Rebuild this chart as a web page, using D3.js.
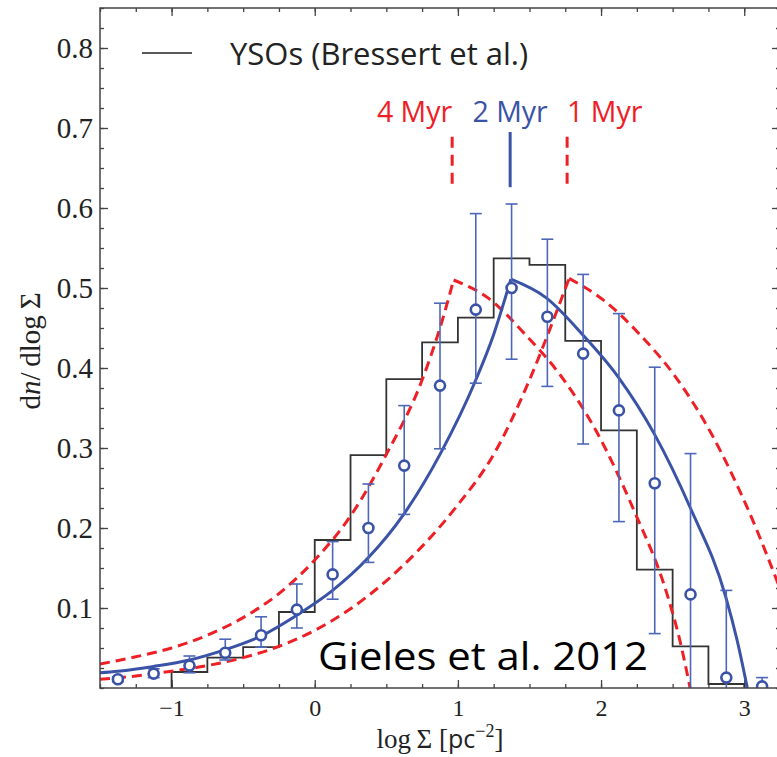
<!DOCTYPE html>
<html>
<head>
<meta charset="utf-8">
<script src="https://cdn.jsdelivr.net/npm/d3@7"></script>
<style>
  body { margin: 0; background: #fff; }
  .tick line { stroke: #444; stroke-width: 1.3; }
</style>
</head>
<body>
<svg id="chart"></svg>
<script>
var width = 777;
var height = 757;

// YSO histogram (Bressert et al.): left bin edges and heights
var binStart = [-1.0, -0.75, -0.5, -0.25, 0, 0.25, 0.5, 0.75, 1.0, 1.25, 1.5, 1.75, 2.0, 2.25, 2.5, 2.75];
var binHeight = [0.020, 0.038, 0.051, 0.095, 0.185, 0.291, 0.386, 0.432, 0.463, 0.537, 0.529, 0.434, 0.322, 0.148, 0.052, 0.005];
var binEnd = 3.0;

// model points with error bars
var ptX = [-1.375, -1.125, -0.875, -0.625, -0.375, -0.125, 0.125, 0.375, 0.625, 0.875, 1.125, 1.375, 1.625, 1.875, 2.125, 2.375, 2.625, 2.875, 3.125];
var ptY = [0.011, 0.018, 0.028, 0.044, 0.066, 0.098, 0.142, 0.200, 0.278, 0.378, 0.473, 0.500, 0.464, 0.418, 0.347, 0.256, 0.117, 0.013, 0.002];
var errLo = [0.008, 0.013, 0.019, 0.035, 0.051, 0.075, 0.111, 0.157, 0.217, 0.299, 0.381, 0.411, 0.377, 0.305, 0.208, 0.068, 0, 0, 0];
var errHi = [0.014, 0.024, 0.040, 0.061, 0.089, 0.130, 0.183, 0.255, 0.353, 0.481, 0.593, 0.605, 0.561, 0.517, 0.468, 0.401, 0.293, 0.122, 0.013];

// 2 Myr fit (blue), rising and falling branches
var fit2LeftX = [-1.5, -1.375, -1.125, -0.875, -0.625, -0.375, -0.125, 0.125, 0.375, 0.625, 0.875, 1.125, 1.25, 1.37];
var fit2LeftY = [0.019, 0.021, 0.027, 0.035, 0.048, 0.065, 0.091, 0.122, 0.163, 0.218, 0.292, 0.385, 0.442, 0.511];
var fit2RightX = [1.37, 1.615, 1.87, 2.119, 2.371, 2.624, 2.871, 2.95, 3.022];
var fit2RightY = [0.511, 0.488, 0.442, 0.389, 0.318, 0.225, 0.114, 0.06, 0];

// 4 Myr model (red dashed)
var fit4LeftX = [-1.5, -1.25, -1.0, -0.75, -0.5, -0.25, 0.0, 0.25, 0.5, 0.75, 0.9, 0.97];
var fit4LeftY = [0.030, 0.039, 0.050, 0.066, 0.088, 0.118, 0.160, 0.215, 0.292, 0.385, 0.465, 0.51];
var fit4RightX = [0.97, 1.215, 1.47, 1.72, 1.97, 2.22, 2.47, 2.55, 2.622];
var fit4RightY = [0.51, 0.487, 0.442, 0.39, 0.32, 0.226, 0.112, 0.06, 0];

// 1 Myr model (red dashed)
var fit1LeftX = [-1.5, -1.25, -1.0, -0.75, -0.5, -0.25, 0.0, 0.25, 0.5, 0.75, 1.0, 1.25, 1.5, 1.65, 1.777];
var fit1LeftY = [0.011, 0.015, 0.021, 0.028, 0.038, 0.052, 0.072, 0.099, 0.134, 0.177, 0.229, 0.292, 0.385, 0.452, 0.512];
var fit1RightX = [1.777, 2.03, 2.27, 2.52, 2.77, 3.02, 3.27];
var fit1RightY = [0.512, 0.483, 0.442, 0.389, 0.318, 0.226, 0.115];

// age markers at top
var ageLabels = ['4 Myr', '2 Myr', '1 Myr'];
var agePeakX = [0.96, 1.365, 1.763];

var xTickValues = [-1, 0, 1, 2, 3];
var xTickLabels = ['\u22121', '0', '1', '2', '3'];
var yTickValues = [0.1, 0.2, 0.3, 0.4, 0.5, 0.6, 0.7, 0.8];
var yTickLabels = ['0.1', '0.2', '0.3', '0.4', '0.5', '0.6', '0.7', '0.8'];

var red = '#ee2026';
var blue = '#3a53a6';
var barBlue = '#4d66b8';
var serif = '"Liberation Serif", "DejaVu Serif", serif';
var sans = '"Open Sans", sans-serif';

var x = d3.scaleLinear().domain([-1.5, 3.25]).range([100, 780]);
var y = d3.scaleLinear().domain([0, 0.85]).range([688, 8]);

var svg = d3.select('#chart')
    .attr('width', width)
    .attr('height', height);

svg.append('defs').append('clipPath')
    .attr('id', 'plot-clip')
  .append('rect')
    .attr('x', 100).attr('y', 8)
    .attr('width', 680).attr('height', 680);

// axes, ticks pointing inward on all four sides
function minorTicks(lo, hi, step) {
    var out = [];
    for (var v = lo; v <= hi + 1e-9; v += step) out.push(+v.toFixed(4));
    return out;
}
var xMinor = minorTicks(-1.5, 3.25, 0.25);
var yMinor = minorTicks(0, 0.85, 0.025);

function addAxis(axis, tf) {
    var g = svg.append('g').attr('transform', tf).call(axis);
    g.select('.domain').remove();
    return g;
}

addAxis(d3.axisBottom(x).tickValues(xMinor).tickSize(-4).tickFormat(''), 'translate(0,688)');
addAxis(d3.axisTop(x).tickValues(xMinor).tickSize(-4).tickFormat(''), 'translate(0,8)');
addAxis(d3.axisLeft(y).tickValues(yMinor).tickSize(-4).tickFormat(''), 'translate(100,0)');
addAxis(d3.axisRight(y).tickValues(yMinor).tickSize(-4).tickFormat(''), 'translate(780,0)');

addAxis(d3.axisBottom(x).tickValues(xTickValues).tickSize(-8).tickPadding(11)
    .tickFormat((d, i) => xTickLabels[i]), 'translate(0,688)')
    .selectAll('text')
    .style('font-family', serif)
    .style('font-size', '24px')
    .attr('fill', '#222');
addAxis(d3.axisTop(x).tickValues(xTickValues).tickSize(-8).tickFormat(''), 'translate(0,8)');
addAxis(d3.axisLeft(y).tickValues(yTickValues).tickSize(-8).tickPadding(7)
    .tickFormat((d, i) => yTickLabels[i]), 'translate(100,0)')
    .selectAll('text')
    .style('font-family', serif)
    .style('font-size', '29px')
    .attr('fill', '#222');
addAxis(d3.axisRight(y).tickValues(yTickValues).tickSize(-8).tickFormat(''), 'translate(780,0)');

var plot = svg.append('g').attr('clip-path', 'url(#plot-clip)');

// histogram
var histPts = [[binStart[0], 0]];
binStart.forEach((b, i) => histPts.push([b, binHeight[i]]));
histPts.push([binEnd, 0]);

plot.append('path')
    .attr('d', d3.line().x(d => x(d[0])).y(d => y(d[1])).curve(d3.curveStepAfter)(histPts))
    .attr('fill', 'none')
    .attr('stroke', '#333')
    .attr('stroke-width', 1.8);

var curve = d3.line()
    .x(d => x(d[0]))
    .y(d => y(d[1]))
    .curve(d3.curveMonotoneX);

function zip(a, b) { return a.map((v, i) => [v, b[i]]); }

[[fit4LeftX, fit4LeftY], [fit4RightX, fit4RightY], [fit1LeftX, fit1LeftY], [fit1RightX, fit1RightY]]
    .forEach(function(c) {
        plot.append('path')
            .attr('d', curve(zip(c[0], c[1])))
            .attr('fill', 'none')
            .attr('stroke', red)
            .attr('stroke-width', 3)
            .attr('stroke-dasharray', '10,6');
    });

[[fit2LeftX, fit2LeftY], [fit2RightX, fit2RightY]].forEach(function(c) {
    plot.append('path')
        .attr('d', curve(zip(c[0], c[1])))
        .attr('fill', 'none')
        .attr('stroke', blue)
        .attr('stroke-width', 3)
        .attr('stroke-linejoin', 'round');
});

// error bars
var bars = plot.selectAll('.ebar')
    .data(ptX.map((v, i) => ({x: v, y: ptY[i], lo: errLo[i], hi: errHi[i]})))
    .enter().append('g')
    .classed('ebar', true);

bars.append('line')
    .attr('x1', d => x(d.x)).attr('x2', d => x(d.x))
    .attr('y1', d => y(d.lo)).attr('y2', d => y(d.hi))
    .attr('stroke', barBlue).attr('stroke-width', 1.6);
bars.append('line')
    .attr('x1', d => x(d.x) - 6).attr('x2', d => x(d.x) + 6)
    .attr('y1', d => y(d.hi)).attr('y2', d => y(d.hi))
    .attr('stroke', barBlue).attr('stroke-width', 1.6);
bars.filter(d => d.lo > 0).append('line')
    .attr('x1', d => x(d.x) - 6).attr('x2', d => x(d.x) + 6)
    .attr('y1', d => y(d.lo)).attr('y2', d => y(d.lo))
    .attr('stroke', barBlue).attr('stroke-width', 1.6);
bars.append('circle')
    .attr('cx', d => x(d.x))
    .attr('cy', d => y(d.y))
    .attr('r', 5)
    .attr('fill', '#fff')
    .attr('stroke', blue)
    .attr('stroke-width', 2.6);

// frame
svg.append('rect')
    .attr('x', 100).attr('y', 8)
    .attr('width', 680).attr('height', 680)
    .attr('fill', 'none')
    .attr('stroke', '#444')
    .attr('stroke-width', 1.5);

// age markers
var ageColor = [red, blue, red];
var ageAnchor = ['end', 'middle', 'start'];
agePeakX.forEach(function(px, i) {
    svg.append('line')
        .attr('x1', x(px)).attr('x2', x(px))
        .attr('y1', y(i === 1 ? 0.695 : 0.689))
        .attr('y2', y(i === 1 ? 0.626 : 0.629))
        .attr('stroke', ageColor[i])
        .attr('stroke-width', 3)
        .attr('stroke-dasharray', i === 1 ? null : '11,7');
    svg.append('text')
        .attr('x', x(px))
        .attr('y', 122)
        .attr('text-anchor', ageAnchor[i])
        .attr('fill', ageColor[i])
        .style('font-family', sans)
        .style('font-size', '28.5px')
        .text(ageLabels[i]);
});

// legend
svg.append('line')
    .attr('x1', 142).attr('x2', 192)
    .attr('y1', 53).attr('y2', 53)
    .attr('stroke', '#222').attr('stroke-width', 1.5);
svg.append('text')
    .attr('x', 230).attr('y', 65)
    .attr('fill', '#222')
    .style('font-family', sans)
    .style('font-size', '31px')
    .text('YSOs (Bressert et al.)');

// axis titles
var xt = svg.append('text')
    .attr('x', 440).attr('y', 748)
    .attr('text-anchor', 'middle')
    .attr('fill', '#222')
    .style('font-family', serif)
    .style('font-size', '27px');
xt.append('tspan').text('log\u2009\u03A3 [');
xt.append('tspan').style('font-family', sans).style('font-size', '25px').text('pc');
xt.append('tspan').attr('dy', -11).style('font-size', '18px').text('\u22122');
xt.append('tspan').attr('dy', 11).text(']');

var yt = svg.append('text')
    .attr('transform', 'translate(40,351) rotate(-90)')
    .attr('text-anchor', 'middle')
    .attr('fill', '#222')
    .style('font-family', serif)
    .style('font-size', '29px');
yt.append('tspan').text('d');
yt.append('tspan').style('font-style', 'italic').text('n');
yt.append('tspan').text('/\u2009dlog\u2009\u03A3');

// credit
svg.append('text')
    .attr('x', 318).attr('y', 670)
    .attr('textLength', 330)
    .attr('lengthAdjust', 'spacingAndGlyphs')
    .attr('fill', '#000')
    .style('font-family', sans)
    .style('font-size', '38px')
    .text('Gieles et al. 2012');
</script>
</body>
</html>
